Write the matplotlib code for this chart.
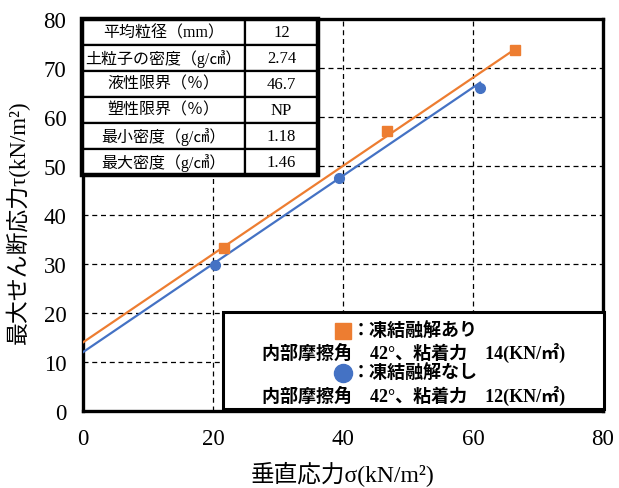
import numpy as np
import matplotlib
matplotlib.use("Agg")
import matplotlib.pyplot as plt
from matplotlib.patches import Rectangle

plt.rcParams['font.family'] = ['Liberation Serif', 'Noto Sans CJK JP', 'DejaVu Sans']

# shear test results
sigma_ft = [21.7, 46.8, 66.5]      # with freeze-thaw
tau_ft = [33.2, 57.1, 73.7]
sigma_nf = [20.3, 39.4, 61.1]      # without freeze-thaw
tau_nf = [29.8, 47.5, 65.9]

phi_deg = [42, 42]
cohesion = [14, 12]

table_labels = ["平均粒径（mm）", "土粒子の密度（g/㎤）", "液性限界（％）",
                "塑性限界（％）", "最小密度（g/㎤）", "最大密度（g/㎤）"]
table_values = ["12", "2.74", "46.7", "NP", "1.18", "1.46"]

orange = "#ED7D31"
blue = "#4472C4"

W, H = 619, 489
fig = plt.figure(figsize=(W / 100, H / 100), dpi=100)
ax = fig.add_axes([0.134, 0.1575, 0.840, 0.8015])

ax.set_xlim(0, 80)
ax.set_ylim(0, 80)
ax.set_xticks([0, 20, 40, 60, 80])
ax.set_yticks(range(0, 81, 10))
ax.tick_params(length=0, labelsize=16.5, pad=12)
ax.grid(True, color="black", linestyle=(0, (4, 3)), linewidth=0.9)
for s in ax.spines.values():
    s.set_linewidth(2.4)

# Mohr-Coulomb fit lines
for sig, c, col in [(sigma_ft, cohesion[0], orange), (sigma_nf, cohesion[1], blue)]:
    xs = np.array([0, max(sig)])
    ax.plot(xs, c + np.tan(np.radians(phi_deg[0])) * xs, color=col, lw=1.6, zorder=3)
ax.plot(sigma_ft, tau_ft, "s", color=orange, ms=7, zorder=4)
ax.plot(sigma_nf, tau_nf, "o", color=blue, ms=7, zorder=4)

# axis titles
fig.text(343 / W, 1 - 475 / H, "垂直応力σ(kN/m²)", fontsize=17,
         ha="center", va="center")
fig.text(18 / W, 1 - 222 / H, "最大せん断応力τ(kN/m²)", fontsize=16.5,
         rotation=90, ha="center", va="center")

# soil properties table
tb = ax.table(cellText=[[a, b] for a, b in zip(table_labels, table_values)],
              colWidths=[0.69, 0.31], cellLoc="center",
              bbox=[-0.002, 0.603, 0.454, 0.397], zorder=5)
tb.auto_set_font_size(False)
for (r, c), cell in tb.get_celld().items():
    cell.set_linewidth(1.6)
    cell.set_facecolor("white")
    cell.get_text().set_fontsize(11.5 if c == 0 else 12)
ax.add_patch(Rectangle((-0.002, 0.603), 0.454, 0.397, transform=ax.transAxes,
                       fill=False, lw=3.2, ec="black", zorder=6, clip_on=False))

# legend box
ax.add_patch(Rectangle((0.269, 0.004), 0.733, 0.249, transform=ax.transAxes,
                       fc="white", ec="black", lw=2.2, zorder=6, clip_on=False))
ax.plot([0.501], [0.205], "s", color=orange, ms=12, transform=ax.transAxes,
        zorder=7, clip_on=False)
ax.plot([0.501], [0.097], "o", color=blue, ms=13, transform=ax.transAxes,
        zorder=7, clip_on=False)
ax.text(0.517, 0.205, "：凍結融解あり", transform=ax.transAxes, fontsize=13,
        fontweight="bold", ha="left", va="center", zorder=7)
ax.text(0.635, 0.151, f"内部摩擦角　{phi_deg[0]}°、粘着力　{cohesion[0]}(KN/㎡)",
        transform=ax.transAxes, fontsize=13, fontweight="bold",
        ha="center", va="center", zorder=7)
ax.text(0.517, 0.097, "：凍結融解なし", transform=ax.transAxes, fontsize=13,
        fontweight="bold", ha="left", va="center", zorder=7)
ax.text(0.635, 0.040, f"内部摩擦角　{phi_deg[1]}°、粘着力　{cohesion[1]}(KN/㎡)",
        transform=ax.transAxes, fontsize=13, fontweight="bold",
        ha="center", va="center", zorder=7)

fig.savefig("out.png", dpi=100)
